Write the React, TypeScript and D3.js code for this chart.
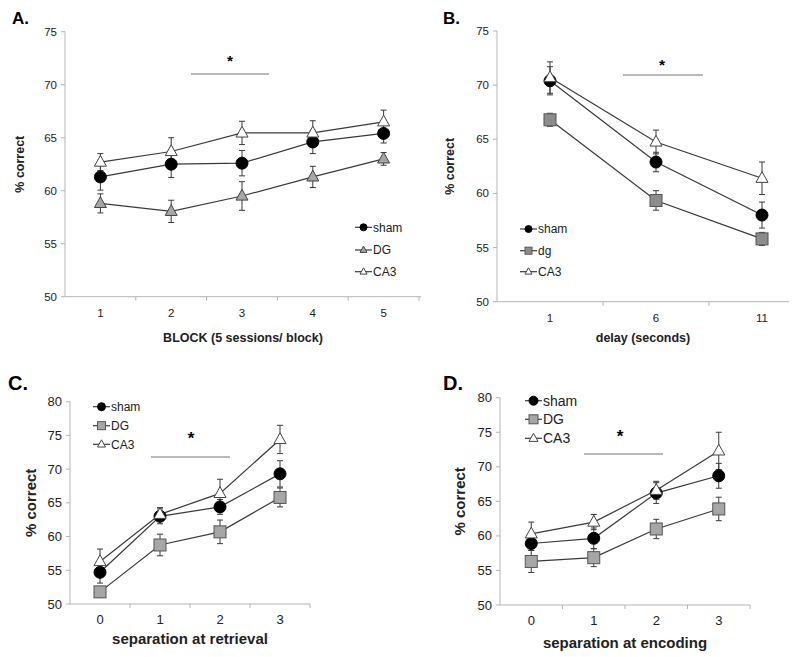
import React from "react";
import * as d3 from "d3";

// ---------- DATA ----------
const blockCats = ["1", "2", "3", "4", "5"];
const aSham = [61.3, 62.5, 62.6, 64.6, 65.4];
const aShamErr = [1.25, 1.25, 1.2, 1.1, 0.9];
const aDG = [58.8, 58.05, 59.5, 61.3, 63.0];
const aDGErr = [0.9, 1.05, 1.35, 1.0, 0.6];
const aCA3 = [62.7, 63.7, 65.45, 65.45, 66.5];
const aCA3Err = [0.8, 1.3, 1.1, 1.15, 1.1];

const delayCats = ["1", "6", "11"];
const bSham = [70.4, 62.9, 58.0];
const bShamErr = [1.3, 0.9, 1.2];
const bDG = [66.8, 59.35, 55.8];
const bDGErr = [0.6, 0.9, 0.6];
const bCA3 = [70.7, 64.75, 61.4];
const bCA3Err = [1.45, 1.1, 1.5];

const sepCats = ["0", "1", "2", "3"];
const cSham = [54.7, 63.0, 64.4, 69.3];
const cShamErr = [1.6, 1.1, 1.1, 1.95];
const cDG = [51.8, 58.75, 60.7, 65.8];
const cDGErr = [0.8, 1.6, 1.75, 1.4];
const cCA3 = [56.3, 63.3, 66.4, 74.4];
const cCA3Err = [1.85, 1.0, 2.1, 2.1];

const dSham = [58.9, 59.65, 66.2, 68.7];
const dShamErr = [1.0, 1.5, 1.5, 1.8];
const dDG = [56.3, 56.85, 61.0, 63.9];
const dDGErr = [1.6, 1.3, 1.4, 1.7];
const dCA3 = [60.3, 62.0, 66.6, 72.3];
const dCA3Err = [1.7, 1.1, 1.3, 2.7];

const yTicksA = [50, 55, 60, 65, 70, 75];
const yTicksC = [50, 55, 60, 65, 70, 75, 80];

// ---------- STYLE ----------
const FONT = "'Liberation Sans', Arial, Helvetica, sans-serif";
const LINE = "#3a3a3a";
const AXIS = "#b5b5b5";
const GRAY = "#a6a6a6";

type Series = { name: string; values: number[]; errs: number[]; shape: "circle" | "square" | "triangle"; fill: string };

function Marker({ shape, fill, x, y, s }: { shape: string; fill: string; x: number; y: number; s: number }) {
  if (shape === "circle") return <circle cx={x} cy={y} r={s / 2} fill={fill} stroke="#000" strokeWidth={1} />;
  if (shape === "square")
    return <rect x={x - s / 2} y={y - s / 2} width={s} height={s} fill={fill} stroke="#555" strokeWidth={1} />;
  const h = s * 0.9;
  const path = `M${x},${y - h * 0.62} L${x + s / 2},${y + h * 0.38} L${x - s / 2},${y + h * 0.38} Z`;
  return <path d={path} fill={fill} stroke="#444" strokeWidth={1} />;
}

type PanelProps = {
  label: string;
  labelX: number;
  labelY: number;
  labelSize: number;
  cats: string[];
  series: Series[];
  xRange: [number, number];
  axisEnd: number;
  yRange: [number, number];
  yDomain: [number, number];
  yTicks: number[];
  tickSize: number;
  xTitle: string;
  xTitleY: number;
  titleSize: number;
  yTitleX: number;
  starX: number;
  starY: number;
  barX: [number, number];
  barY: number;
  legX: number;
  legY: number[];
  legSize: number;
  legMarker: number;
  legLine: number;
  marker: number;
};

function Panel(p: PanelProps) {
  const x = d3.scaleBand<string>().domain(p.cats).range(p.xRange).paddingInner(0).paddingOuter(0);
  const y = d3.scaleLinear().domain(p.yDomain).range(p.yRange);
  const cx = (c: string) => (x(c) as number) + x.bandwidth() / 2;
  const line = d3
    .line<number>()
    .x((_, i) => cx(p.cats[i]))
    .y((v) => y(v));
  const x0 = p.xRange[0];
  const yBottom = p.yRange[0];
  const boundaries = p.cats.map((c) => (x(c) as number) + x.bandwidth()).filter((b) => b <= p.axisEnd + 0.5);
  const capW = 3;
  const yMid = (p.yRange[0] + p.yRange[1]) / 2;
  return (
    <g>
      <text x={p.labelX} y={p.labelY} fontSize={p.labelSize} fontWeight="bold" fontFamily={FONT}>
        {p.label}
      </text>
      {/* y axis */}
      <line x1={x0} x2={x0} y1={p.yRange[1]} y2={yBottom} stroke={AXIS} strokeWidth={1} />
      {p.yTicks.map((t) => (
        <g key={t}>
          <line x1={x0 - 4} x2={x0} y1={y(t)} y2={y(t)} stroke={AXIS} />
          <text x={x0 - 8} y={y(t)} dy="0.35em" textAnchor="end" fontSize={p.tickSize} fontFamily={FONT} fill="#222">
            {t}
          </text>
        </g>
      ))}
      {/* x axis */}
      <line x1={x0} x2={p.axisEnd} y1={yBottom} y2={yBottom} stroke={AXIS} strokeWidth={1} />
      {boundaries.map((b, i) => (
        <line key={i} x1={b} x2={b} y1={yBottom} y2={yBottom + 4} stroke={AXIS} />
      ))}
      {p.cats.map((c) => (
        <text key={c} x={cx(c)} y={yBottom + 20} textAnchor="middle" fontSize={p.tickSize} fontFamily={FONT} fill="#222">
          {c}
        </text>
      ))}
      <text
        x={(x0 + p.axisEnd) / 2}
        y={p.xTitleY}
        textAnchor="middle"
        fontSize={p.titleSize}
        fontWeight="bold"
        fontFamily={FONT}
        fill="#222"
      >
        {p.xTitle}
      </text>
      <text
        transform={`translate(${p.yTitleX},${yMid}) rotate(-90)`}
        textAnchor="middle"
        fontSize={p.titleSize}
        fontWeight="bold"
        fontFamily={FONT}
        fill="#222"
      >
        % correct
      </text>
      {/* significance */}
      <line x1={p.barX[0]} x2={p.barX[1]} y1={p.barY} y2={p.barY} stroke="#777" strokeWidth={1.2} />
      <text x={p.starX} y={p.starY} textAnchor="middle" fontSize={p.tickSize + 4} fontWeight="bold" fontFamily={FONT}>
        *
      </text>
      {/* error bars */}
      {p.series.map((s) =>
        s.values.map((v, i) => {
          const xc = cx(p.cats[i]);
          const yt = y(v + s.errs[i]);
          const yb = y(v - s.errs[i]);
          return (
            <g key={s.name + i} stroke={LINE} strokeWidth={1}>
              <line x1={xc} x2={xc} y1={yt} y2={yb} />
              <line x1={xc - capW} x2={xc + capW} y1={yt} y2={yt} />
              <line x1={xc - capW} x2={xc + capW} y1={yb} y2={yb} />
            </g>
          );
        })
      )}
      {/* lines */}
      {p.series.map((s) => (
        <path key={s.name} d={line(s.values) as string} fill="none" stroke={LINE} strokeWidth={1.2} />
      ))}
      {/* markers */}
      {p.series.map((s) =>
        s.values.map((v, i) => (
          <Marker key={s.name + "m" + i} shape={s.shape} fill={s.fill} x={cx(p.cats[i])} y={y(v)} s={p.marker} />
        ))
      )}
      {/* legend */}
      {p.series.map((s, i) => (
        <g key={"leg" + s.name}>
          <line x1={p.legX} x2={p.legX + p.legLine} y1={p.legY[i]} y2={p.legY[i]} stroke={LINE} strokeWidth={1.2} />
          <Marker shape={s.shape} fill={s.fill} x={p.legX + p.legLine / 2} y={p.legY[i]} s={p.legMarker} />
          <text
            x={p.legX + p.legLine + 1}
            y={p.legY[i]}
            dy="0.35em"
            fontSize={p.legSize}
            fontFamily={FONT}
            fill="#222"
          >
            {s.name}
          </text>
        </g>
      ))}
    </g>
  );
}

export default function App() {
  const seriesA: Series[] = [
    { name: "sham", values: aSham, errs: aShamErr, shape: "circle", fill: "#000" },
    { name: "DG", values: aDG, errs: aDGErr, shape: "triangle", fill: GRAY },
    { name: "CA3", values: aCA3, errs: aCA3Err, shape: "triangle", fill: "#fff" },
  ];
  const seriesB: Series[] = [
    { name: "sham", values: bSham, errs: bShamErr, shape: "circle", fill: "#000" },
    { name: "dg", values: bDG, errs: bDGErr, shape: "square", fill: "#8c8c8c" },
    { name: "CA3", values: bCA3, errs: bCA3Err, shape: "triangle", fill: "#fff" },
  ];
  const seriesC: Series[] = [
    { name: "sham", values: cSham, errs: cShamErr, shape: "circle", fill: "#000" },
    { name: "DG", values: cDG, errs: cDGErr, shape: "square", fill: GRAY },
    { name: "CA3", values: cCA3, errs: cCA3Err, shape: "triangle", fill: "#fff" },
  ];
  const seriesD: Series[] = [
    { name: "sham", values: dSham, errs: dShamErr, shape: "circle", fill: "#000" },
    { name: "DG", values: dDG, errs: dDGErr, shape: "square", fill: GRAY },
    { name: "CA3", values: dCA3, errs: dCA3Err, shape: "triangle", fill: "#fff" },
  ];
  return (
    <svg width={800} height={657} style={{ position: "absolute", left: 0, top: 0, background: "#fff" }}>
      <rect width={800} height={657} fill="#fff" />
      <Panel
        label="A."
        labelX={12}
        labelY={24}
        labelSize={17}
        cats={blockCats}
        series={seriesA}
        xRange={[65, 419]}
        axisEnd={421}
        yRange={[296.7, 31.7]}
        yDomain={[50, 75]}
        yTicks={yTicksA}
        tickSize={11.5}
        xTitle="BLOCK (5 sessions/ block)"
        xTitleY={342}
        titleSize={12.5}
        yTitleX={24}
        starX={230}
        starY={66}
        barX={[191, 269]}
        barY={74}
        legX={355}
        legY={[227.3, 250, 271.7]}
        legSize={12}
        legMarker={7}
        legLine={17}
        marker={12}
      />
      <Panel
        label="B."
        labelX={443}
        labelY={24}
        labelSize={17}
        cats={delayCats}
        series={seriesB}
        xRange={[497, 815]}
        axisEnd={789}
        yRange={[301.7, 31]}
        yDomain={[50, 75]}
        yTicks={yTicksA}
        tickSize={11.5}
        xTitle="delay (seconds)"
        xTitleY={342}
        titleSize={12.5}
        yTitleX={454}
        starX={662}
        starY={70}
        barX={[623, 703]}
        barY={75}
        legX={520}
        legY={[229, 250.7, 271.7]}
        legSize={12}
        legMarker={7}
        legLine={17}
        marker={12}
      />
      <Panel
        label="C."
        labelX={8}
        labelY={390}
        labelSize={20}
        cats={sepCats}
        series={seriesC}
        xRange={[70, 310]}
        axisEnd={310}
        yRange={[604, 401.7]}
        yDomain={[50, 80]}
        yTicks={yTicksC}
        tickSize={13}
        xTitle="separation at retrieval"
        xTitleY={644}
        titleSize={15}
        yTitleX={36}
        starX={191}
        starY={444}
        barX={[151, 230]}
        barY={457}
        legX={93}
        legY={[406.7, 425.7, 444.3]}
        legSize={12}
        legMarker={8}
        legLine={17}
        marker={12}
      />
      <Panel
        label="D."
        labelX={443}
        labelY={390}
        labelSize={20}
        cats={sepCats}
        series={seriesD}
        xRange={[500, 750]}
        axisEnd={750}
        yRange={[605, 397.7]}
        yDomain={[50, 80]}
        yTicks={yTicksC}
        tickSize={13}
        xTitle="separation at encoding"
        xTitleY={648}
        titleSize={15}
        yTitleX={465}
        starX={620}
        starY={442}
        barX={[584, 663]}
        barY={454}
        legX={525}
        legY={[400.7, 419.3, 438.3]}
        legSize={14}
        legMarker={9}
        legLine={17}
        marker={12}
      />
    </svg>
  );
}
